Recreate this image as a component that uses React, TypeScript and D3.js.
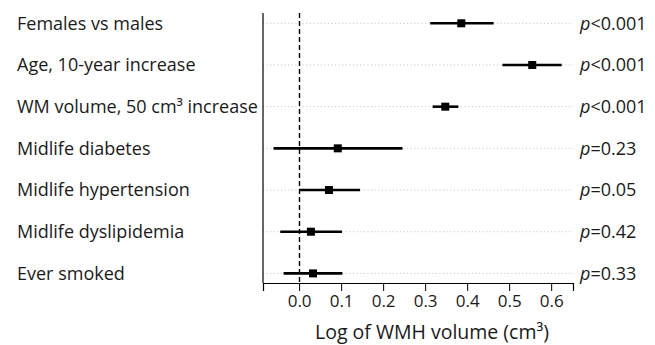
import React, { useEffect, useRef } from 'react';
import * as d3 from 'd3';

const labels = [
  'Females vs males',
  'Age, 10-year increase',
  'WM volume, 50 cm³ increase',
  'Midlife diabetes',
  'Midlife hypertension',
  'Midlife dyslipidemia',
  'Ever smoked',
];
const estimates = [0.386, 0.555, 0.348, 0.092, 0.071, 0.028, 0.033];
const lower = [0.312, 0.484, 0.318, -0.061, 0.0, -0.045, -0.037];
const upper = [0.463, 0.625, 0.379, 0.246, 0.145, 0.102, 0.103];
const pSign = ['<', '<', '<', '=', '=', '=', '='];
const pValues = ['0.001', '0.001', '0.001', '0.23', '0.05', '0.42', '0.33'];
const ticks = [0, 0.1, 0.2, 0.3, 0.4, 0.5, 0.6];

const App = () => {
  const ref = useRef<SVGSVGElement>(null);

  useEffect(() => {
    const width = 655;
    const height = 345;
    const margin = { top: 13, right: 82, bottom: 62, left: 263 };
    const font = '"Open Sans", sans-serif';
    const ink = '#1a1a1a';

    const svg = d3.select(ref.current);
    svg.selectAll('*').remove();

    const x = d3.scaleLinear()
      .domain([-0.086, 0.652])
      .range([margin.left, width - margin.right]);

    const y = d3.scalePoint()
      .domain(labels)
      .range([23.3, 273.4]);

    const rows = labels.map((name, i) => ({
      name, est: estimates[i], lo: lower[i], hi: upper[i], sign: pSign[i], p: pValues[i],
    }));

    // dotted guides
    svg.append('g')
      .selectAll('line')
      .data(rows)
      .join('line')
      .attr('x1', margin.left)
      .attr('x2', width - margin.right)
      .attr('y1', d => y(d.name)!)
      .attr('y2', d => y(d.name)!)
      .attr('stroke', '#c8c8c8')
      .attr('stroke-width', 1)
      .attr('stroke-dasharray', '1.2,2.4');

    // zero reference
    const x0 = Math.round(x(0)) + 0.5;
    svg.append('line')
      .attr('x1', x0).attr('x2', x0)
      .attr('y1', margin.top).attr('y2', height - margin.bottom)
      .attr('stroke', '#000')
      .attr('stroke-width', 1.4)
      .attr('stroke-dasharray', '5,3');

    // axes
    svg.append('line')
      .attr('x1', margin.left).attr('x2', margin.left)
      .attr('y1', margin.top).attr('y2', height - margin.bottom)
      .attr('stroke', '#000').attr('stroke-width', 1.2);

    const xAxis = svg.append('g')
      .attr('transform', `translate(0,${height - margin.bottom})`)
      .call(d3.axisBottom(x).tickValues(ticks).tickFormat(d3.format('.1f')).tickSize(8).tickPadding(4));
    xAxis.select('.domain').attr('stroke', '#000').attr('stroke-width', 1.2);
    xAxis.selectAll('.tick line').attr('stroke', '#000').attr('stroke-width', 1);
    xAxis.selectAll('.tick text')
      .attr('font-family', font)
      .attr('font-size', 17)
      .attr('fill', ink);

    // CI lines
    svg.append('g')
      .selectAll('line')
      .data(rows)
      .join('line')
      .attr('x1', d => x(d.lo))
      .attr('x2', d => x(d.hi))
      .attr('y1', d => y(d.name)!)
      .attr('y2', d => y(d.name)!)
      .attr('stroke', '#000')
      .attr('stroke-width', 2.6);

    // point estimates
    const sq = 8;
    svg.append('g')
      .selectAll('rect')
      .data(rows)
      .join('rect')
      .attr('x', d => x(d.est) - sq / 2)
      .attr('y', d => y(d.name)! - sq / 2)
      .attr('width', sq)
      .attr('height', sq)
      .attr('fill', '#000');

    // left labels
    svg.append('g')
      .selectAll('text')
      .data(rows)
      .join('text')
      .attr('x', 17)
      .attr('y', d => y(d.name)!)
      .attr('dy', '0.35em')
      .attr('font-family', font)
      .attr('font-size', 18)
      .attr('fill', ink)
      .text(d => d.name);

    // p values
    const pt = svg.append('g')
      .selectAll('text')
      .data(rows)
      .join('text')
      .attr('x', 580)
      .attr('y', d => y(d.name)!)
      .attr('dy', '0.35em')
      .attr('font-family', font)
      .attr('font-size', 18)
      .attr('fill', ink);
    pt.append('tspan').attr('font-style', 'italic').text('p');
    pt.append('tspan').text(d => d.sign + d.p);

    // axis title
    svg.append('text')
      .attr('x', 432)
      .attr('y', 332)
      .attr('dy', '0.35em')
      .attr('text-anchor', 'middle')
      .attr('font-family', font)
      .attr('font-size', 19.5)
      .attr('fill', ink)
      .text('Log of WMH volume (cm³)');
  }, []);

  return (
    <svg ref={ref} width={655} height={345}
      style={{ position: 'absolute', left: 0, top: 0, background: '#fff' }} />
  );
};

export default App;
